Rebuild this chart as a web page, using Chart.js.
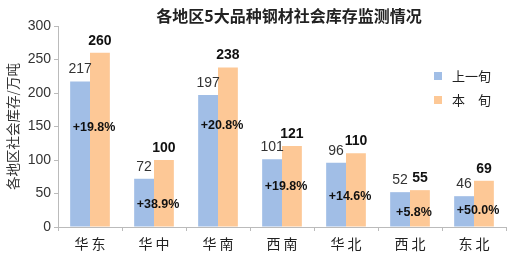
<!DOCTYPE html>
<html>
<head>
<meta charset="utf-8">
<script src="https://cdn.jsdelivr.net/npm/chart.js@4/dist/chart.umd.min.js"></script>
<style>
  html,body{margin:0;padding:0;background:#fff;}
  #wrap{width:511px;height:261px;position:relative;}
</style>
</head>
<body>
<div id="wrap"><canvas id="c" width="511" height="261"></canvas></div>
<script>
// ── data ──
const regions   = ['华东','华中','华南','西南','华北','西北','东北'];
const prevTerm  = [217, 72, 197, 101, 96, 52, 46];   // 上一旬
const thisTerm  = [260, 100, 238, 121, 110, 55, 69]; // 本旬
const pctLabels = ['+19.8%','+38.9%','+20.8%','+19.8%','+14.6%','+5.8%','+50.0%'];
const pctAt     = [148, 34, 151, 60, 45, 21, 25];    // value level where the % label sits
const yTicks    = [0, 50, 100, 150, 200, 250, 300];

const BLUE='#a1bee6', ORANGE='#fdc896';
const SANS='Arial, "Liberation Sans", "Noto Sans CJK SC", sans-serif';
const CJK='"Noto Sans CJK SC", sans-serif';

// title, value labels, % labels, legend
const decor = {
  id:'decor',
  afterDatasetsDraw(chart){
    const {ctx, scales:{x,y}} = chart;
    ctx.save();
    // title
    ctx.fillStyle='#222';
    ctx.font='bold 16px '+CJK;
    ctx.textAlign='center'; ctx.textBaseline='middle';
    ctx.fillText('各地区5大品种钢材社会库存监测情况', 289, 16);

    // value labels over bars
    const m0=chart.getDatasetMeta(0), m1=chart.getDatasetMeta(1);
    ctx.textBaseline='bottom';
    m0.data.forEach((b,i)=>{
      ctx.font='14px '+SANS; ctx.fillStyle='#333';
      ctx.fillText(String(prevTerm[i]), b.x, b.y-5);
    });
    m1.data.forEach((b,i)=>{
      ctx.font='bold 14px '+SANS; ctx.fillStyle='#111';
      ctx.fillText(String(thisTerm[i]), b.x, b.y-5);
    });

    // percentage change
    ctx.font='bold 12.5px '+SANS; ctx.fillStyle='#111'; ctx.textBaseline='middle';
    pctLabels.forEach((t,i)=>{
      ctx.fillText(t, x.getPixelForValue(i)+4, y.getPixelForValue(pctAt[i]));
    });

    // legend
    ctx.textAlign='left';
    chart.data.datasets.forEach((ds,i)=>{
      const ly = 76 + i*24;
      ctx.fillStyle=ds.backgroundColor;
      ctx.fillRect(434, ly-4, 8, 8);
      ctx.fillStyle='#222';
      ctx.font='13px '+CJK;
      ctx.fillText(ds.label, 452, ly);
    });
    ctx.restore();
  }
};

new Chart(document.getElementById('c'), {
  type:'bar',
  data:{
    labels:regions,
    datasets:[
      {label:'上一旬', data:prevTerm, backgroundColor:BLUE, categoryPercentage:0.62, barPercentage:1.0},
      {label:'本　旬', data:thisTerm, backgroundColor:ORANGE, categoryPercentage:0.62, barPercentage:1.0}
    ]
  },
  options:{
    responsive:false, animation:false,
    layout:{padding:{top:26, right:5, bottom:0, left:0}},
    plugins:{legend:{display:false}, tooltip:{enabled:false}, title:{display:false}},
    scales:{
      x:{
        grid:{drawOnChartArea:false, drawTicks:true, tickLength:4, color:'#bbb'},
        border:{color:'#bbb'},
        ticks:{color:'#222', font:{size:14, family:CJK}, padding:4,
               callback:(v,i)=>regions[i].split('').join('\u2009')},
        afterFit:s=>{s.height=34;}
      },
      y:{
        min:0, max:300,
        afterBuildTicks:s=>{s.ticks=yTicks.map(v=>({value:v}));},
        grid:{drawOnChartArea:false, drawTicks:true, tickLength:4, color:'#bbb'},
        border:{color:'#bbb'},
        ticks:{color:'#333', font:{size:14, family:SANS}, padding:3},
        title:{display:true, text:'各地区社会库存/万吨', color:'#333',
               font:{size:13.5, family:CJK}, padding:{top:5, bottom:0}},
        afterFit:s=>{s.width=58;}
      }
    }
  },
  plugins:[decor]
});
</script>
</body>
</html>
